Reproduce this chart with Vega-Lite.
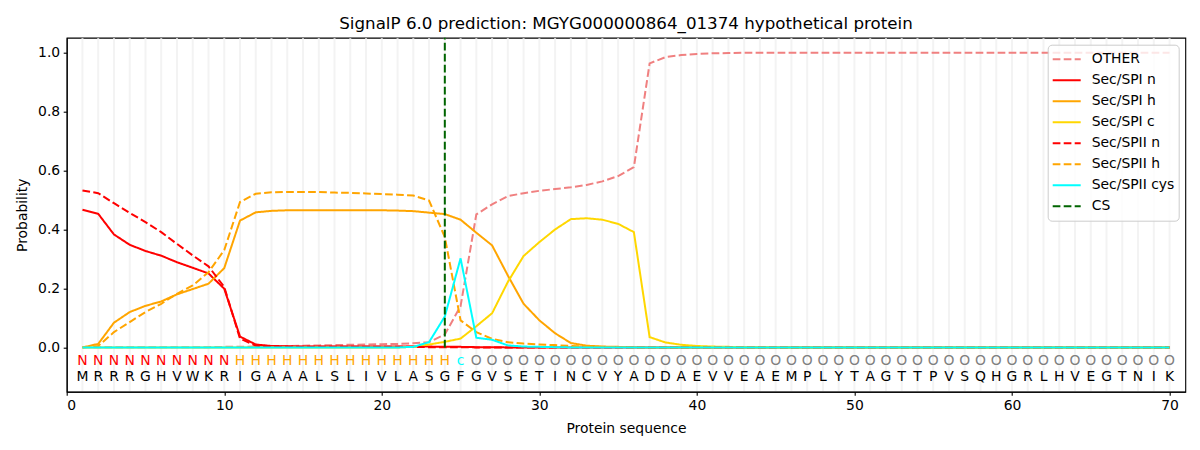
{
  "$schema": "https://vega.github.io/schema/vega-lite/v6.json",
  "width": 1118.6,
  "height": 354,
  "autosize": {"type": "none"},
  "padding": {"left": 66.7, "top": 37.7, "right": 14.7, "bottom": 58.3},
  "background": "white",
  "config": {
    "font": "DejaVu Sans",
    "view": {"stroke": "black", "strokeWidth": 1.1},
    "axis": {
      "grid": false,
      "domainColor": "black",
      "domainWidth": 1.1,
      "tickColor": "black",
      "tickWidth": 1.1,
      "tickSize": 3.5,
      "labelPadding": 3.5,
      "labelColor": "black",
      "labelFontSize": 13.9,
      "titleFontSize": 13.9,
      "titleFontWeight": "normal",
      "titleColor": "black"
    }
  },
  "title": {
    "text": "SignalP 6.0 prediction: MGYG000000864_01374 hypothetical protein",
    "fontSize": 16.7,
    "fontWeight": "normal",
    "color": "black",
    "offset": 4
  },
  "data": {
    "values": [
      {"p": 1, "aa": "M", "lab": "N", "OTHER": 0.001, "Sec/SPI n": 0.467, "Sec/SPI h": 0.0, "Sec/SPI c": 0.0, "Sec/SPII n": 0.532, "Sec/SPII h": 0.0, "Sec/SPII cys": 0.0},
      {"p": 2, "aa": "R", "lab": "N", "OTHER": 0.001, "Sec/SPI n": 0.453, "Sec/SPI h": 0.012, "Sec/SPI c": 0.0, "Sec/SPII n": 0.523, "Sec/SPII h": 0.005, "Sec/SPII cys": 0.0},
      {"p": 3, "aa": "R", "lab": "N", "OTHER": 0.001, "Sec/SPI n": 0.383, "Sec/SPI h": 0.084, "Sec/SPI c": 0.0, "Sec/SPII n": 0.489, "Sec/SPII h": 0.052, "Sec/SPII cys": 0.0},
      {"p": 4, "aa": "R", "lab": "N", "OTHER": 0.001, "Sec/SPI n": 0.348, "Sec/SPI h": 0.12, "Sec/SPI c": 0.0, "Sec/SPII n": 0.456, "Sec/SPII h": 0.086, "Sec/SPII cys": 0.0},
      {"p": 5, "aa": "G", "lab": "N", "OTHER": 0.001, "Sec/SPI n": 0.327, "Sec/SPI h": 0.141, "Sec/SPI c": 0.0, "Sec/SPII n": 0.425, "Sec/SPII h": 0.12, "Sec/SPII cys": 0.0},
      {"p": 6, "aa": "H", "lab": "N", "OTHER": 0.001, "Sec/SPI n": 0.311, "Sec/SPI h": 0.156, "Sec/SPI c": 0.0, "Sec/SPII n": 0.391, "Sec/SPII h": 0.148, "Sec/SPII cys": 0.0},
      {"p": 7, "aa": "V", "lab": "N", "OTHER": 0.001, "Sec/SPI n": 0.289, "Sec/SPI h": 0.18, "Sec/SPI c": 0.0, "Sec/SPII n": 0.351, "Sec/SPII h": 0.182, "Sec/SPII cys": 0.0},
      {"p": 8, "aa": "W", "lab": "N", "OTHER": 0.001, "Sec/SPI n": 0.27, "Sec/SPI h": 0.198, "Sec/SPI c": 0.0, "Sec/SPII n": 0.312, "Sec/SPII h": 0.21, "Sec/SPII cys": 0.0},
      {"p": 9, "aa": "K", "lab": "N", "OTHER": 0.001, "Sec/SPI n": 0.251, "Sec/SPI h": 0.216, "Sec/SPI c": 0.0, "Sec/SPII n": 0.275, "Sec/SPII h": 0.255, "Sec/SPII cys": 0.0},
      {"p": 10, "aa": "R", "lab": "N", "OTHER": 0.002, "Sec/SPI n": 0.199, "Sec/SPI h": 0.269, "Sec/SPI c": 0.0, "Sec/SPII n": 0.205, "Sec/SPII h": 0.33, "Sec/SPII cys": 0.0},
      {"p": 11, "aa": "I", "lab": "H", "OTHER": 0.002, "Sec/SPI n": 0.037, "Sec/SPI h": 0.43, "Sec/SPI c": 0.0, "Sec/SPII n": 0.03, "Sec/SPII h": 0.493, "Sec/SPII cys": 0.0},
      {"p": 12, "aa": "G", "lab": "H", "OTHER": 0.003, "Sec/SPI n": 0.01, "Sec/SPI h": 0.458, "Sec/SPI c": 0.0, "Sec/SPII n": 0.006, "Sec/SPII h": 0.521, "Sec/SPII cys": 0.0},
      {"p": 13, "aa": "A", "lab": "H", "OTHER": 0.004, "Sec/SPI n": 0.005, "Sec/SPI h": 0.463, "Sec/SPI c": 0.0, "Sec/SPII n": 0.003, "Sec/SPII h": 0.526, "Sec/SPII cys": 0.0},
      {"p": 14, "aa": "A", "lab": "H", "OTHER": 0.005, "Sec/SPI n": 0.004, "Sec/SPI h": 0.465, "Sec/SPI c": 0.0, "Sec/SPII n": 0.002, "Sec/SPII h": 0.527, "Sec/SPII cys": 0.0},
      {"p": 15, "aa": "A", "lab": "H", "OTHER": 0.006, "Sec/SPI n": 0.003, "Sec/SPI h": 0.465, "Sec/SPI c": 0.0, "Sec/SPII n": 0.002, "Sec/SPII h": 0.527, "Sec/SPII cys": 0.0},
      {"p": 16, "aa": "L", "lab": "H", "OTHER": 0.007, "Sec/SPI n": 0.003, "Sec/SPI h": 0.465, "Sec/SPI c": 0.0, "Sec/SPII n": 0.002, "Sec/SPII h": 0.527, "Sec/SPII cys": 0.0},
      {"p": 17, "aa": "S", "lab": "H", "OTHER": 0.008, "Sec/SPI n": 0.003, "Sec/SPI h": 0.465, "Sec/SPI c": 0.0, "Sec/SPII n": 0.002, "Sec/SPII h": 0.525, "Sec/SPII cys": 0.0},
      {"p": 18, "aa": "L", "lab": "H", "OTHER": 0.009, "Sec/SPI n": 0.003, "Sec/SPI h": 0.465, "Sec/SPI c": 0.0, "Sec/SPII n": 0.002, "Sec/SPII h": 0.524, "Sec/SPII cys": 0.0},
      {"p": 19, "aa": "I", "lab": "H", "OTHER": 0.01, "Sec/SPI n": 0.003, "Sec/SPI h": 0.465, "Sec/SPI c": 0.0, "Sec/SPII n": 0.002, "Sec/SPII h": 0.522, "Sec/SPII cys": 0.0},
      {"p": 20, "aa": "V", "lab": "H", "OTHER": 0.011, "Sec/SPI n": 0.003, "Sec/SPI h": 0.465, "Sec/SPI c": 0.0, "Sec/SPII n": 0.002, "Sec/SPII h": 0.52, "Sec/SPII cys": 0.0},
      {"p": 21, "aa": "L", "lab": "H", "OTHER": 0.012, "Sec/SPI n": 0.003, "Sec/SPI h": 0.464, "Sec/SPI c": 0.0, "Sec/SPII n": 0.002, "Sec/SPII h": 0.518, "Sec/SPII cys": 0.0},
      {"p": 22, "aa": "A", "lab": "H", "OTHER": 0.014, "Sec/SPI n": 0.003, "Sec/SPI h": 0.462, "Sec/SPI c": 0.002, "Sec/SPII n": 0.002, "Sec/SPII h": 0.515, "Sec/SPII cys": 0.002},
      {"p": 23, "aa": "S", "lab": "H", "OTHER": 0.018, "Sec/SPI n": 0.003, "Sec/SPI h": 0.457, "Sec/SPI c": 0.01, "Sec/SPII n": 0.001, "Sec/SPII h": 0.498, "Sec/SPII cys": 0.018},
      {"p": 24, "aa": "G", "lab": "H", "OTHER": 0.044, "Sec/SPI n": 0.002, "Sec/SPI h": 0.452, "Sec/SPI c": 0.019, "Sec/SPII n": 0.001, "Sec/SPII h": 0.374, "Sec/SPII cys": 0.105},
      {"p": 25, "aa": "F", "lab": "c", "OTHER": 0.14, "Sec/SPI n": 0.002, "Sec/SPI h": 0.433, "Sec/SPI c": 0.03, "Sec/SPII n": 0.001, "Sec/SPII h": 0.092, "Sec/SPII cys": 0.302},
      {"p": 26, "aa": "G", "lab": "O", "OTHER": 0.451, "Sec/SPI n": 0.001, "Sec/SPI h": 0.389, "Sec/SPI c": 0.072, "Sec/SPII n": 0.0, "Sec/SPII h": 0.052, "Sec/SPII cys": 0.033},
      {"p": 27, "aa": "V", "lab": "O", "OTHER": 0.485, "Sec/SPI n": 0.001, "Sec/SPI h": 0.346, "Sec/SPI c": 0.116, "Sec/SPII n": 0.0, "Sec/SPII h": 0.029, "Sec/SPII cys": 0.026},
      {"p": 28, "aa": "S", "lab": "O", "OTHER": 0.513, "Sec/SPI n": 0.0, "Sec/SPI h": 0.244, "Sec/SPI c": 0.222, "Sec/SPII n": 0.0, "Sec/SPII h": 0.018, "Sec/SPII cys": 0.007},
      {"p": 29, "aa": "E", "lab": "O", "OTHER": 0.523, "Sec/SPI n": 0.0, "Sec/SPI h": 0.148, "Sec/SPI c": 0.31, "Sec/SPII n": 0.0, "Sec/SPII h": 0.013, "Sec/SPII cys": 0.003},
      {"p": 30, "aa": "T", "lab": "O", "OTHER": 0.531, "Sec/SPI n": 0.0, "Sec/SPI h": 0.092, "Sec/SPI c": 0.357, "Sec/SPII n": 0.0, "Sec/SPII h": 0.01, "Sec/SPII cys": 0.002},
      {"p": 31, "aa": "I", "lab": "O", "OTHER": 0.537, "Sec/SPI n": 0.0, "Sec/SPI h": 0.048, "Sec/SPI c": 0.4, "Sec/SPII n": 0.0, "Sec/SPII h": 0.008, "Sec/SPII cys": 0.001},
      {"p": 32, "aa": "N", "lab": "O", "OTHER": 0.543, "Sec/SPI n": 0.0, "Sec/SPI h": 0.015, "Sec/SPI c": 0.435, "Sec/SPII n": 0.0, "Sec/SPII h": 0.005, "Sec/SPII cys": 0.0},
      {"p": 33, "aa": "C", "lab": "O", "OTHER": 0.551, "Sec/SPI n": 0.0, "Sec/SPI h": 0.006, "Sec/SPI c": 0.438, "Sec/SPII n": 0.0, "Sec/SPII h": 0.003, "Sec/SPII cys": 0.0},
      {"p": 34, "aa": "V", "lab": "O", "OTHER": 0.563, "Sec/SPI n": 0.0, "Sec/SPI h": 0.003, "Sec/SPI c": 0.433, "Sec/SPII n": 0.0, "Sec/SPII h": 0.002, "Sec/SPII cys": 0.0},
      {"p": 35, "aa": "Y", "lab": "O", "OTHER": 0.581, "Sec/SPI n": 0.0, "Sec/SPI h": 0.002, "Sec/SPI c": 0.419, "Sec/SPII n": 0.0, "Sec/SPII h": 0.001, "Sec/SPII cys": 0.0},
      {"p": 36, "aa": "A", "lab": "O", "OTHER": 0.611, "Sec/SPI n": 0.0, "Sec/SPI h": 0.001, "Sec/SPI c": 0.391, "Sec/SPII n": 0.0, "Sec/SPII h": 0.0, "Sec/SPII cys": 0.0},
      {"p": 37, "aa": "D", "lab": "O", "OTHER": 0.963, "Sec/SPI n": 0.0, "Sec/SPI h": 0.0, "Sec/SPI c": 0.035, "Sec/SPII n": 0.0, "Sec/SPII h": 0.0, "Sec/SPII cys": 0.0},
      {"p": 38, "aa": "D", "lab": "O", "OTHER": 0.984, "Sec/SPI n": 0.0, "Sec/SPI h": 0.0, "Sec/SPI c": 0.017, "Sec/SPII n": 0.0, "Sec/SPII h": 0.0, "Sec/SPII cys": 0.0},
      {"p": 39, "aa": "A", "lab": "O", "OTHER": 0.991, "Sec/SPI n": 0.0, "Sec/SPI h": 0.0, "Sec/SPI c": 0.009, "Sec/SPII n": 0.0, "Sec/SPII h": 0.0, "Sec/SPII cys": 0.0},
      {"p": 40, "aa": "E", "lab": "O", "OTHER": 0.995, "Sec/SPI n": 0.0, "Sec/SPI h": 0.0, "Sec/SPI c": 0.005, "Sec/SPII n": 0.0, "Sec/SPII h": 0.0, "Sec/SPII cys": 0.0},
      {"p": 41, "aa": "V", "lab": "O", "OTHER": 0.997, "Sec/SPI n": 0.0, "Sec/SPI h": 0.0, "Sec/SPI c": 0.003, "Sec/SPII n": 0.0, "Sec/SPII h": 0.0, "Sec/SPII cys": 0.0},
      {"p": 42, "aa": "V", "lab": "O", "OTHER": 0.998, "Sec/SPI n": 0.0, "Sec/SPI h": 0.0, "Sec/SPI c": 0.002, "Sec/SPII n": 0.0, "Sec/SPII h": 0.0, "Sec/SPII cys": 0.0},
      {"p": 43, "aa": "E", "lab": "O", "OTHER": 0.999, "Sec/SPI n": 0.0, "Sec/SPI h": 0.0, "Sec/SPI c": 0.001, "Sec/SPII n": 0.0, "Sec/SPII h": 0.0, "Sec/SPII cys": 0.0},
      {"p": 44, "aa": "A", "lab": "O", "OTHER": 0.999, "Sec/SPI n": 0.0, "Sec/SPI h": 0.0, "Sec/SPI c": 0.001, "Sec/SPII n": 0.0, "Sec/SPII h": 0.0, "Sec/SPII cys": 0.0},
      {"p": 45, "aa": "E", "lab": "O", "OTHER": 0.999, "Sec/SPI n": 0.0, "Sec/SPI h": 0.0, "Sec/SPI c": 0.0, "Sec/SPII n": 0.0, "Sec/SPII h": 0.0, "Sec/SPII cys": 0.0},
      {"p": 46, "aa": "M", "lab": "O", "OTHER": 0.999, "Sec/SPI n": 0.0, "Sec/SPI h": 0.0, "Sec/SPI c": 0.0, "Sec/SPII n": 0.0, "Sec/SPII h": 0.0, "Sec/SPII cys": 0.0},
      {"p": 47, "aa": "P", "lab": "O", "OTHER": 0.999, "Sec/SPI n": 0.0, "Sec/SPI h": 0.0, "Sec/SPI c": 0.0, "Sec/SPII n": 0.0, "Sec/SPII h": 0.0, "Sec/SPII cys": 0.0},
      {"p": 48, "aa": "L", "lab": "O", "OTHER": 0.999, "Sec/SPI n": 0.0, "Sec/SPI h": 0.0, "Sec/SPI c": 0.0, "Sec/SPII n": 0.0, "Sec/SPII h": 0.0, "Sec/SPII cys": 0.0},
      {"p": 49, "aa": "Y", "lab": "O", "OTHER": 0.999, "Sec/SPI n": 0.0, "Sec/SPI h": 0.0, "Sec/SPI c": 0.0, "Sec/SPII n": 0.0, "Sec/SPII h": 0.0, "Sec/SPII cys": 0.0},
      {"p": 50, "aa": "T", "lab": "O", "OTHER": 0.999, "Sec/SPI n": 0.0, "Sec/SPI h": 0.0, "Sec/SPI c": 0.0, "Sec/SPII n": 0.0, "Sec/SPII h": 0.0, "Sec/SPII cys": 0.0},
      {"p": 51, "aa": "A", "lab": "O", "OTHER": 0.999, "Sec/SPI n": 0.0, "Sec/SPI h": 0.0, "Sec/SPI c": 0.0, "Sec/SPII n": 0.0, "Sec/SPII h": 0.0, "Sec/SPII cys": 0.0},
      {"p": 52, "aa": "G", "lab": "O", "OTHER": 0.999, "Sec/SPI n": 0.0, "Sec/SPI h": 0.0, "Sec/SPI c": 0.0, "Sec/SPII n": 0.0, "Sec/SPII h": 0.0, "Sec/SPII cys": 0.0},
      {"p": 53, "aa": "T", "lab": "O", "OTHER": 0.999, "Sec/SPI n": 0.0, "Sec/SPI h": 0.0, "Sec/SPI c": 0.0, "Sec/SPII n": 0.0, "Sec/SPII h": 0.0, "Sec/SPII cys": 0.0},
      {"p": 54, "aa": "T", "lab": "O", "OTHER": 0.999, "Sec/SPI n": 0.0, "Sec/SPI h": 0.0, "Sec/SPI c": 0.0, "Sec/SPII n": 0.0, "Sec/SPII h": 0.0, "Sec/SPII cys": 0.0},
      {"p": 55, "aa": "P", "lab": "O", "OTHER": 0.999, "Sec/SPI n": 0.0, "Sec/SPI h": 0.0, "Sec/SPI c": 0.0, "Sec/SPII n": 0.0, "Sec/SPII h": 0.0, "Sec/SPII cys": 0.0},
      {"p": 56, "aa": "V", "lab": "O", "OTHER": 0.999, "Sec/SPI n": 0.0, "Sec/SPI h": 0.0, "Sec/SPI c": 0.0, "Sec/SPII n": 0.0, "Sec/SPII h": 0.0, "Sec/SPII cys": 0.0},
      {"p": 57, "aa": "S", "lab": "O", "OTHER": 0.999, "Sec/SPI n": 0.0, "Sec/SPI h": 0.0, "Sec/SPI c": 0.0, "Sec/SPII n": 0.0, "Sec/SPII h": 0.0, "Sec/SPII cys": 0.0},
      {"p": 58, "aa": "Q", "lab": "O", "OTHER": 0.999, "Sec/SPI n": 0.0, "Sec/SPI h": 0.0, "Sec/SPI c": 0.0, "Sec/SPII n": 0.0, "Sec/SPII h": 0.0, "Sec/SPII cys": 0.0},
      {"p": 59, "aa": "H", "lab": "O", "OTHER": 0.999, "Sec/SPI n": 0.0, "Sec/SPI h": 0.0, "Sec/SPI c": 0.0, "Sec/SPII n": 0.0, "Sec/SPII h": 0.0, "Sec/SPII cys": 0.0},
      {"p": 60, "aa": "G", "lab": "O", "OTHER": 0.999, "Sec/SPI n": 0.0, "Sec/SPI h": 0.0, "Sec/SPI c": 0.0, "Sec/SPII n": 0.0, "Sec/SPII h": 0.0, "Sec/SPII cys": 0.0},
      {"p": 61, "aa": "R", "lab": "O", "OTHER": 0.999, "Sec/SPI n": 0.0, "Sec/SPI h": 0.0, "Sec/SPI c": 0.0, "Sec/SPII n": 0.0, "Sec/SPII h": 0.0, "Sec/SPII cys": 0.0},
      {"p": 62, "aa": "L", "lab": "O", "OTHER": 0.999, "Sec/SPI n": 0.0, "Sec/SPI h": 0.0, "Sec/SPI c": 0.0, "Sec/SPII n": 0.0, "Sec/SPII h": 0.0, "Sec/SPII cys": 0.0},
      {"p": 63, "aa": "H", "lab": "O", "OTHER": 0.999, "Sec/SPI n": 0.0, "Sec/SPI h": 0.0, "Sec/SPI c": 0.0, "Sec/SPII n": 0.0, "Sec/SPII h": 0.0, "Sec/SPII cys": 0.0},
      {"p": 64, "aa": "V", "lab": "O", "OTHER": 0.999, "Sec/SPI n": 0.0, "Sec/SPI h": 0.0, "Sec/SPI c": 0.0, "Sec/SPII n": 0.0, "Sec/SPII h": 0.0, "Sec/SPII cys": 0.0},
      {"p": 65, "aa": "E", "lab": "O", "OTHER": 0.999, "Sec/SPI n": 0.0, "Sec/SPI h": 0.0, "Sec/SPI c": 0.0, "Sec/SPII n": 0.0, "Sec/SPII h": 0.0, "Sec/SPII cys": 0.0},
      {"p": 66, "aa": "G", "lab": "O", "OTHER": 0.999, "Sec/SPI n": 0.0, "Sec/SPI h": 0.0, "Sec/SPI c": 0.0, "Sec/SPII n": 0.0, "Sec/SPII h": 0.0, "Sec/SPII cys": 0.0},
      {"p": 67, "aa": "T", "lab": "O", "OTHER": 0.999, "Sec/SPI n": 0.0, "Sec/SPI h": 0.0, "Sec/SPI c": 0.0, "Sec/SPII n": 0.0, "Sec/SPII h": 0.0, "Sec/SPII cys": 0.0},
      {"p": 68, "aa": "N", "lab": "O", "OTHER": 0.999, "Sec/SPI n": 0.0, "Sec/SPI h": 0.0, "Sec/SPI c": 0.0, "Sec/SPII n": 0.0, "Sec/SPII h": 0.0, "Sec/SPII cys": 0.0},
      {"p": 69, "aa": "I", "lab": "O", "OTHER": 0.999, "Sec/SPI n": 0.0, "Sec/SPI h": 0.0, "Sec/SPI c": 0.0, "Sec/SPII n": 0.0, "Sec/SPII h": 0.0, "Sec/SPII cys": 0.0},
      {"p": 70, "aa": "K", "lab": "O", "OTHER": 0.999, "Sec/SPI n": 0.0, "Sec/SPI h": 0.0, "Sec/SPI c": 0.0, "Sec/SPII n": 0.0, "Sec/SPII h": 0.0, "Sec/SPII cys": 0.0}
    ]
  },
  "layer": [
    {
      "mark": {"type": "rule", "color": "#f3f3f3", "strokeWidth": 2},
      "encoding": {
        "x": {
          "field": "p",
          "type": "quantitative",
          "scale": {"domain": [0, 71], "nice": false, "zero": false},
          "axis": {"values": [0, 10, 20, 30, 40, 50, 60, 70], "format": "d", "title": "Protein sequence", "titlePadding": 9}
        },
        "y": {"datum": -0.148, "scale": {"domain": [-0.15, 1.05], "nice": false, "zero": false}},
        "y2": {"datum": 1.048}
      }
    },
    {
      "transform": [
        {"fold": ["OTHER", "Sec/SPI n", "Sec/SPI h", "Sec/SPI c", "Sec/SPII n", "Sec/SPII h"], "as": ["series", "value"]}
      ],
      "mark": {"type": "line", "strokeWidth": 2},
      "encoding": {
        "x": {"field": "p", "type": "quantitative", "scale": {"domain": [0, 71], "nice": false, "zero": false}},
        "y": {
          "field": "value",
          "type": "quantitative",
          "scale": {"domain": [-0.15, 1.05], "nice": false, "zero": false},
          "axis": {"values": [0, 0.2, 0.4, 0.6, 0.8, 1.0], "format": ".1f", "title": "Probability", "titlePadding": 8}
        },
        "color": {
          "field": "series",
          "type": "nominal",
          "scale": {
            "domain": ["OTHER", "Sec/SPI n", "Sec/SPI h", "Sec/SPI c", "Sec/SPII n", "Sec/SPII h", "Sec/SPII cys", "CS"],
            "range": ["#f08080", "#ff0000", "#ffa500", "#ffd700", "#ff0000", "#ffa500", "#00ffff", "#006400"]
          },
          "legend": {
            "title": null,
            "orient": "top-right",
            "offset": 7,
            "padding": 4,
            "fillColor": "rgba(255,255,255,0.8)",
            "strokeColor": "#cccccc",
            "cornerRadius": 4,
            "labelFontSize": 13.9,
            "labelColor": "black",
            "labelOffset": 10,
            "symbolType": "stroke",
            "symbolSize": 784,
            "symbolStrokeWidth": 2,
            "clipHeight": 21,
            "rowPadding": 0
          }
        },
        "strokeDash": {
          "field": "series",
          "type": "nominal",
          "scale": {
            "domain": ["OTHER", "Sec/SPI n", "Sec/SPI h", "Sec/SPI c", "Sec/SPII n", "Sec/SPII h", "Sec/SPII cys", "CS"],
            "range": [[7.7, 3.3], [1, 0], [1, 0], [1, 0], [7.7, 3.3], [7.7, 3.3], [1, 0], [7.7, 3.3]]
          },
          "legend": {
            "title": null,
            "orient": "top-right",
            "offset": 7,
            "padding": 4,
            "fillColor": "rgba(255,255,255,0.8)",
            "strokeColor": "#cccccc",
            "cornerRadius": 4,
            "labelFontSize": 13.9,
            "labelColor": "black",
            "labelOffset": 10,
            "symbolType": "stroke",
            "symbolSize": 784,
            "symbolStrokeWidth": 2,
            "clipHeight": 21,
            "rowPadding": 0
          }
        }
      }
    },
    {
      "transform": [
        {"fold": ["Sec/SPII cys"], "as": ["series", "value"]}
      ],
      "mark": {"type": "line", "strokeWidth": 2},
      "encoding": {
        "x": {"field": "p", "type": "quantitative"},
        "y": {"field": "value", "type": "quantitative"},
        "color": {"field": "series", "type": "nominal"},
        "strokeDash": {"field": "series", "type": "nominal"}
      }
    },
    {
      "data": {"values": [{"series": "CS", "p": 24}]},
      "mark": {"type": "rule", "strokeWidth": 2},
      "encoding": {
        "x": {"field": "p", "type": "quantitative"},
        "y": {"datum": 0},
        "y2": {"datum": 1.05},
        "color": {"field": "series", "type": "nominal"},
        "strokeDash": {"field": "series", "type": "nominal"}
      }
    },
    {
      "mark": {"type": "text", "fontSize": 13.9, "baseline": "middle", "align": "center"},
      "encoding": {
        "x": {"field": "p", "type": "quantitative"},
        "y": {"datum": -0.046},
        "text": {"field": "lab"},
        "color": {
          "condition": [
            {"test": "datum.lab === 'N'", "value": "#ff0000"},
            {"test": "datum.lab === 'H'", "value": "#ffa500"},
            {"test": "datum.lab === 'c'", "value": "#00ffff"}
          ],
          "value": "#808080"
        }
      }
    },
    {
      "mark": {"type": "text", "fontSize": 13.9, "baseline": "middle", "align": "center", "color": "black"},
      "encoding": {
        "x": {"field": "p", "type": "quantitative"},
        "y": {"datum": -0.1},
        "text": {"field": "aa"}
      }
    }
  ]
}
